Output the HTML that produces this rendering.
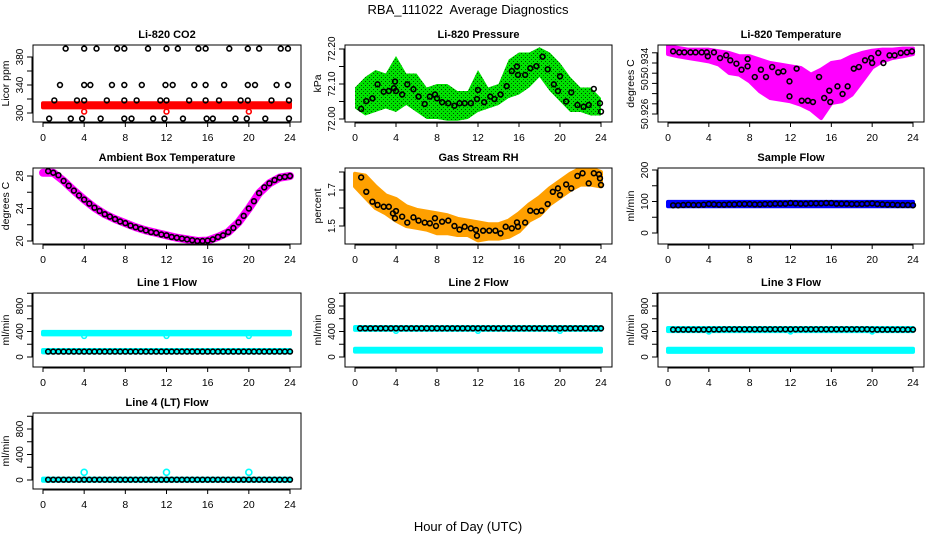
<!DOCTYPE html>
<html><head><meta charset="utf-8"><style>
html,body{margin:0;padding:0;background:#fff;}
svg{display:block;font-family:"Liberation Sans",sans-serif;}
</style></head><body>
<svg id="chart" width="936" height="540" viewBox="0 0 936 540">
<defs>
<pattern id="pGreen" width="4" height="4" patternUnits="userSpaceOnUse"><rect width="4" height="4" fill="#00e000"/><rect x="1" y="1" width="1" height="1" fill="#004000"/><rect x="3" y="3" width="1" height="1" fill="#006000"/></pattern>
</defs>
<text x="468" y="14" font-size="13" text-anchor="middle" style="white-space:pre">RBA_111022  Average Diagnostics</text>
<text x="468" y="531" font-size="13" text-anchor="middle">Hour of Day (UTC)</text>
</svg>
<script>
// ---------- data ----------
const co2Hours392=[2.2,4.0,5.2,7.2,7.9,10.2,12.0,13.1,15.1,15.8,18.1,19.9,21.0,23.1,23.8];
const co2Hours340=[1.65,4.0,4.6,6.7,7.9,9.6,11.9,12.6,14.7,15.8,17.6,19.9,20.6,22.7,23.8];
const co2Hours318=[1.1,3.3,4.0,6.2,7.9,9.1,11.4,12.0,14.2,15.8,17.1,19.2,19.9,22.2,23.9];
const co2Hours292=[0.6,2.7,3.8,5.6,7.9,8.6,10.7,11.8,13.6,15.9,16.5,18.7,19.8,21.6,23.9];
const co2Levels=[392,340,318,292];
const co2BandHours=[0,24];
const co2BandLo=[308,308];
const co2BandHi=[314,314];
const co2RedOutHours=[4,12,20];
const co2RedOutVals=[302,302,302];

const presHours=[0.6,1.1,1.7,2.2,2.8,3.3,3.8,3.9,4.0,4.6,5.1,5.7,6.2,6.8,7.3,7.8,8.0,8.5,9.1,9.7,10.2,10.7,11.3,11.9,12.0,12.6,13.2,13.6,14.2,14.8,15.3,15.8,15.9,16.6,17.1,17.7,18.3,18.8,19.4,19.8,20.0,20.6,21.1,21.7,22.3,22.8,23.3,23.9,24.0];
const presVals=[72.029,72.051,72.059,72.099,72.078,72.08,72.088,72.107,72.08,72.07,72.099,72.085,72.064,72.043,72.064,72.07,72.059,72.048,72.045,72.038,72.045,72.045,72.045,72.057,72.083,72.048,72.064,72.057,72.07,72.094,72.137,72.15,72.126,72.126,72.145,72.151,72.178,72.142,72.099,72.08,72.122,72.05,72.076,72.04,72.035,72.04,72.086,72.045,72.021];
const hourly=[0,1,2,3,4,5,6,7,8,9,10,11,12,13,14,15,16,17,18,19,20,21,22,23,24];
const presLo=[72.03,72.01,72.02,72.03,72.02,72.04,72.02,72.0,72.0,71.995,71.995,72.0,72.02,72.03,72.04,72.06,72.07,72.09,72.12,72.08,72.05,72.02,72.02,72.01,72.01];
const presHi=[72.09,72.12,72.14,72.13,72.18,72.13,72.13,72.09,72.10,72.10,72.08,72.08,72.14,72.09,72.10,72.17,72.19,72.19,72.205,72.19,72.16,72.12,72.09,72.09,72.06];

const tempHours=[0.5,1.1,1.6,2.2,2.7,3.3,3.8,3.9,4.5,5.1,5.7,6.1,6.7,7.2,7.8,7.8,8.5,9.1,9.6,10.2,10.8,11.3,11.9,11.9,12.6,13.1,13.7,14.2,14.8,15.3,15.8,15.9,16.6,17.1,17.6,18.2,18.7,19.3,19.9,20.0,20.6,21.1,21.7,22.2,22.8,23.4,23.9];
const tempVals=[50.93583,50.93567,50.93567,50.93567,50.93567,50.93567,50.93567,50.93505,50.93567,50.93478,50.9352,50.93442,50.9339,50.93295,50.93463,50.93348,50.9318,50.93295,50.9318,50.93337,50.93254,50.93269,50.93112,50.92877,50.93311,50.92809,50.92809,50.92788,50.9318,50.92851,50.92966,50.92788,50.93034,50.92914,50.93034,50.93311,50.93337,50.93442,50.93478,50.934,50.93557,50.934,50.9352,50.9352,50.93557,50.93567,50.93583];
const tempLo=[50.93541,50.93505,50.93478,50.93452,50.93426,50.93374,50.93243,50.93217,50.93112,50.92956,50.92851,50.92825,50.92799,50.92746,50.92668,50.92537,50.92773,50.92799,50.92903,50.93112,50.9333,50.93426,50.93478,50.93505,50.93541];
const tempHi=[50.93661,50.93635,50.93609,50.93609,50.93609,50.93583,50.93557,50.93505,50.93505,50.93452,50.934,50.93374,50.93348,50.93322,50.93217,50.93295,50.934,50.93426,50.93505,50.93557,50.93593,50.93609,50.93609,50.93625,50.93625];

const halfHours=[0.5,1,1.5,2,2.5,3,3.5,4,4.5,5,5.5,6,6.5,7,7.5,8,8.5,9,9.5,10,10.5,11,11.5,12,12.5,13,13.5,14,14.5,15,15.5,16,16.5,17,17.5,18,18.5,19,19.5,20,20.5,21,21.5,22,22.5,23,23.5,24];
const ambVals=[28.6,28.4,28.1,27.4,26.8,26.2,25.6,25.1,24.6,24.1,23.7,23.3,23.0,22.7,22.4,22.2,21.9,21.7,21.5,21.3,21.1,21.0,20.8,20.7,20.5,20.4,20.3,20.2,20.1,20.0,20.0,20.05,20.2,20.5,20.7,21.1,21.6,22.3,23.1,24.0,24.9,25.9,26.6,27.1,27.5,27.8,27.9,28.0];
const ambBandVals=[28.4,28.4,27.4,26.2,25.1,24.1,23.3,22.7,22.2,21.7,21.3,21.0,20.7,20.4,20.2,20.0,20.05,20.5,21.1,22.3,24.0,25.9,27.1,27.8,28.0];

const rhHours=[0.6,1.1,1.7,2.2,2.8,3.3,3.7,3.9,4.0,4.6,5.1,5.7,6.2,6.8,7.3,7.8,7.9,8.5,9.1,9.7,10.2,10.7,11.3,11.8,11.9,12.5,13.1,13.7,14.2,14.7,15.3,15.8,15.9,16.6,17.1,17.7,18.2,18.8,19.3,19.8,20.0,20.6,21.1,21.7,22.2,22.8,23.3,23.8,23.9,24.0];
const rhVals=[1.77,1.69,1.635,1.617,1.607,1.607,1.57,1.543,1.583,1.552,1.519,1.548,1.53,1.519,1.515,1.543,1.5,1.524,1.53,1.5,1.48,1.496,1.487,1.478,1.446,1.474,1.474,1.474,1.459,1.496,1.487,1.52,1.496,1.519,1.585,1.58,1.585,1.622,1.69,1.709,1.672,1.731,1.709,1.778,1.793,1.737,1.793,1.787,1.765,1.728];
const rhLo=[1.72,1.66,1.60,1.57,1.53,1.50,1.49,1.48,1.46,1.46,1.45,1.45,1.42,1.43,1.43,1.44,1.47,1.53,1.56,1.62,1.66,1.70,1.73,1.73,1.72];
const rhHi=[1.79,1.78,1.72,1.67,1.65,1.61,1.59,1.58,1.57,1.56,1.54,1.53,1.52,1.51,1.51,1.53,1.57,1.62,1.66,1.71,1.75,1.79,1.82,1.82,1.80];

const sampleVals=[88,88,89,90,89,89,90,92,91,90,90,91,91,92,92,92,91,91,92,92,93,93,93,95,94,93,93,94,94,94,95,95,93,93,93,92,92,92,93,94,92,91,90,90,89,89,89,88];
const sampleBandLo=[85,85];
const sampleBandHi=[99,99];

const l1Black=[85,85,85,85,85,85,85,85,85,85,85,85,85,85,85,85,85,85,85,85,85,85,85,85,85,85,85,85,85,85,85,85,85,85,85,85,85,85,85,85,85,85,85,85,85,85,85,85];
const l2Black=[450,450,450,450,450,450,450,450,450,450,450,450,450,450,450,450,450,450,450,450,450,450,450,450,450,450,450,450,450,450,450,450,450,450,450,450,450,450,450,450,450,450,450,450,450,450,450,450];
const l3Black=[430,430,430,430,430,430,430,432,432,432,435,435,435,435,435,435,435,435,435,435,435,435,435,435,435,435,435,435,435,435,435,435,435,435,435,435,435,435,435,432,430,430,430,430,430,430,430,430];
const l4Black=[5,5,5,5,5,5,5,5,5,5,5,5,5,5,5,5,5,5,5,5,5,5,5,5,5,5,5,5,5,5,5,5,5,5,5,5,5,5,5,5,5,5,5,5,5,5,5,5];
const bandHours=[0,24];
const l1CyanHiLo=[355,355], l1CyanHiHi=[395,395], l1CyanLoLo=[72,72], l1CyanLoHi=[110,110];
const l2CyanHiLo=[425,425], l2CyanHiHi=[470,470], l2CyanLoLo=[85,85], l2CyanLoHi=[130,130];
const l3CyanHiLo=[405,405], l3CyanHiHi=[455,455], l3CyanLoLo=[80,80], l3CyanLoHi=[130,130];
const l4CyanLo=[-12,-12], l4CyanHi=[22,22];
const outHours=[4,12,20];
const l1Out=[330,330,330];
const l2Out=[410,410,410];
const l3Out=[400,400,400];
const l4Out=[120,120,120];
const xTicks=[0,4,8,12,16,20,24];

// ---------- drawing ----------
const NS='http://www.w3.org/2000/svg';
const svg=document.getElementById('chart');
function mk(tag,attrs,parent){const e=document.createElementNS(NS,tag);for(const k in attrs)e.setAttribute(k,attrs[k]);(parent||svg).appendChild(e);return e;}
const colX=[[43,290],[355,601],[668,913]];
const rowY=[[45,122],[168,244],[293,367],[413,489]];
let clipN=0;
function panel(name,title,col,row,ya,yticks,ylabels,ytitle){
  const [x0,x24]=colX[col],[top,bot]=rowY[row];
  const L=x0-10,R=x24+11;
  const g=mk('g',{});
  
  
  const sx=h=>x0+(h/24)*(x24-x0);
  const sy=v=>ya[1]+(v-ya[0])*(ya[3]-ya[1])/(ya[2]-ya[0]);
  const id='c'+(clipN++);
  const cp=mk('clipPath',{id:id},g);mk('rect',{x:L,y:top,width:R-L,height:bot-top},cp);
  const plot=mk('g',{'clip-path':'url(#'+id+')'},g);
  
  
  const box=mk('rect',{x:L,y:top,width:R-L,height:bot-top,fill:'none',stroke:'#000','stroke-width':1},g);
  
  
  const t=mk('text',{x:(L+R)/2,y:top-7,'font-size':11,'font-weight':'bold','text-anchor':'middle'},g);t.textContent=title;
  
  
  mk('line',{x1:sx(0),x2:sx(24),y1:bot+1,y2:bot+1,stroke:'#000'},g);
  xTicks.forEach(h=>{mk('line',{x1:sx(h),x2:sx(h),y1:bot,y2:bot+5,stroke:'#000'},g);
    const tx=mk('text',{x:sx(h),y:bot+19,'font-size':10.5,'text-anchor':'middle'},g);tx.textContent=h;
    
    });
  mk('line',{x1:L-1,x2:L-1,y1:sy(yticks[0]),y2:sy(yticks[yticks.length-1]),stroke:'#000'},g);
  yticks.forEach((v,i)=>{mk('line',{x1:L-6,x2:L,y1:sy(v),y2:sy(v),stroke:'#000'},g);
    if(ylabels[i]){const ty=mk('text',{x:0,y:0,'font-size':10,'text-anchor':'middle',transform:`translate(${L-10},${sy(v)}) rotate(-90)`},g);ty.textContent=ylabels[i];
    
    }});
  const yt=mk('text',{x:0,y:0,'font-size':10.5,'text-anchor':'middle',transform:`translate(${L-24},${(top+bot)/2}) rotate(-90)`},g);yt.textContent=ytitle;
  
  
  return {sx,sy,plot};
}
function band(p,hs,lo,hi,fill,nm){
  const pts=hs.map((h,i)=>p.sx(h)+','+p.sy(hi[i])).concat(hs.map((h,i)=>p.sx(h)+','+p.sy(lo[i])).reverse());
  const e=mk('polygon',{points:pts.join(' '),fill:fill,stroke:fill.startsWith('url')?'none':fill,'stroke-width':4,'stroke-linejoin':'round'},p.plot);
  
  
}
function pts(p,hs,vs,color,nm,r){
  hs.forEach((h,i)=>{const c=mk('circle',{cx:p.sx(h),cy:p.sy(vs[i]),r:r||2.4,fill:'none',stroke:color,'stroke-width':1.6},p.plot);
    
    });
}
function line(p,hs,vs,color,w,nm){
  const e=mk('polyline',{points:hs.map((h,i)=>p.sx(h)+','+p.sy(vs[i])).join(' '),fill:'none',stroke:color,'stroke-width':w,'stroke-linejoin':'round','stroke-linecap':'round'},p.plot);
  
  
}

// CO2
let p=panel('co2','Li-820 CO2',0,0,[300,113,380,57],[300,320,340,360,380],['300','','340','','380'],'Licor ppm');
band(p,co2BandHours,co2BandLo,co2BandHi,'#ff0000','co2-red-band');
pts(p,co2RedOutHours,co2RedOutVals,'#ff0000','co2-red-point');
[co2Hours392,co2Hours340,co2Hours318,co2Hours292].forEach((hs,k)=>pts(p,hs,hs.map(()=>co2Levels[k]),'#000','co2-point'));

// Pressure
p=panel('pressure','Li-820 Pressure',1,0,[72.0,119,72.2,49],[72.0,72.05,72.1,72.15,72.2],['72.00','','72.10','','72.20'],'kPa');
band(p,hourly,presLo,presHi,'url(#pGreen)','pressure-green-cloud');
pts(p,presHours,presVals,'#000','pressure-point');

// Temperature
p=panel('li820-temp','Li-820 Temperature',2,0,[50.926,114,50.934,63],[50.926,50.9276,50.9292,50.9308,50.9324,50.934,50.9356],['50.926','','','50.','','50.934',''],'degrees C');
band(p,hourly,tempLo,tempHi,'#ff00ff','temp-magenta-cloud');
pts(p,tempHours,tempVals,'#000','temp-point');

// Ambient
p=panel('ambient','Ambient Box Temperature',0,1,[20,241,28,176],[20,22,24,26,28],['20','','24','','28'],'degrees C');
line(p,hourly,ambBandVals,'#ff00ff',8,'ambient-magenta-band');
pts(p,halfHours,ambVals,'#000','ambient-point');

// RH
p=panel('rh','Gas Stream RH',1,1,[1.5,226,1.7,190],[1.5,1.6,1.7,1.8],['1.5','','1.7',''],'percent');
band(p,hourly,rhLo,rhHi,'#ffa000','rh-orange-cloud');
pts(p,rhHours,rhVals,'#000','rh-point');

// Sample flow
p=panel('sample-flow','Sample Flow',2,1,[0,233,200,170],[0,50,100,150,200],['0','','100','','200'],'ml/min');
band(p,bandHours,sampleBandLo,sampleBandHi,'#0000ff','sample-blue-band');
pts(p,halfHours,sampleVals,'#000','sample-point');

const fT=[0,200,400,600,800,1000], fL=['0','','400','','800',''];
// Line 1
p=panel('line1','Line 1 Flow',0,2,[0,357,800,306],fT,fL,'ml/min');
band(p,bandHours,l1CyanHiLo,l1CyanHiHi,'#00ffff','line1-cyan-high');
band(p,bandHours,l1CyanLoLo,l1CyanLoHi,'#00ffff','line1-cyan-low');
pts(p,outHours,l1Out,'#00ffff','line1-cyan-outlier');
pts(p,halfHours,l1Black,'#000','line1-point');
// Line 2
p=panel('line2','Line 2 Flow',1,2,[0,357,800,306],fT,fL,'ml/min');
band(p,bandHours,l2CyanHiLo,l2CyanHiHi,'#00ffff','line2-cyan-high');
band(p,bandHours,l2CyanLoLo,l2CyanLoHi,'#00ffff','line2-cyan-low');
pts(p,outHours,l2Out,'#00ffff','line2-cyan-outlier');
pts(p,halfHours,l2Black,'#000','line2-point');
// Line 3
p=panel('line3','Line 3 Flow',2,2,[0,357,800,306],fT,fL,'ml/min');
band(p,bandHours,l3CyanHiLo,l3CyanHiHi,'#00ffff','line3-cyan-high');
band(p,bandHours,l3CyanLoLo,l3CyanLoHi,'#00ffff','line3-cyan-low');
pts(p,outHours,l3Out,'#00ffff','line3-cyan-outlier');
pts(p,halfHours,l3Black,'#000','line3-point');
// Line 4
p=panel('line4','Line 4 (LT) Flow',0,3,[0,480,800,429],fT,fL,'ml/min');
band(p,bandHours,l4CyanLo,l4CyanHi,'#00ffff','line4-cyan-band');
pts(p,outHours,l4Out,'#00ffff','line4-cyan-outlier',3);
pts(p,halfHours,l4Black,'#000','line4-point');
</script>
</body></html>
